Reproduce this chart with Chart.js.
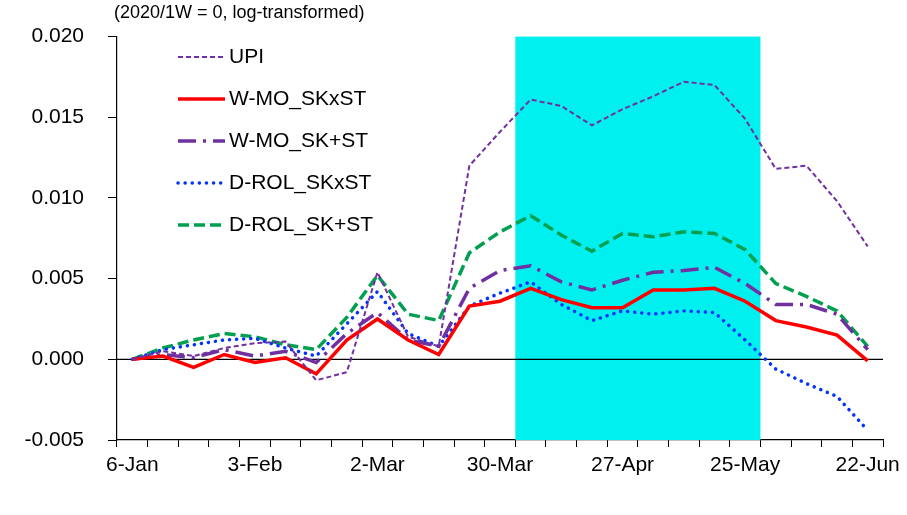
<!DOCTYPE html>
<html>
<head>
<meta charset="utf-8">
<script src="https://cdn.jsdelivr.net/npm/chart.js@4"></script>
<style>
  body { margin: 0; background: #fff; }
  #wrap { width: 907px; height: 515px; }
</style>
</head>
<body>
<div id="wrap"><canvas id="c"></canvas></div>
<script>
// weekly dates, 2020
const weeks = ['6-Jan','13-Jan','20-Jan','27-Jan','3-Feb','10-Feb','17-Feb','24-Feb','2-Mar','9-Mar','16-Mar','23-Mar',
  '30-Mar','6-Apr','13-Apr','20-Apr','27-Apr','4-May','11-May','18-May','25-May','1-Jun','8-Jun','15-Jun','22-Jun'];

const upi = [0, 0.0005, 0.0002, 0.0007, 0.0010, 0.0011, -0.0013, -0.0008, 0.0054, 0.0014, 0.0008, 0.0120,
  0.0141, 0.0161, 0.0157, 0.0145, 0.0155, 0.0163, 0.0172, 0.0170, 0.0149, 0.0118, 0.0120, 0.0098, 0.0070];
const wmoSKxST = [0, 0.0002, -0.0005, 0.0003, -0.0002, 0.0001, -0.0009, 0.0012, 0.0025, 0.0012, 0.0003, 0.0033,
  0.0036, 0.0044, 0.0037, 0.0032, 0.0032, 0.0043, 0.0043, 0.0044, 0.0036, 0.0024, 0.0020, 0.0015, -0.0001];
const wmoSKST = [0, 0.0003, 0.0001, 0.0006, 0.0002, 0.0005, -0.0002, 0.0016, 0.0029, 0.0012, 0.0008, 0.0044,
  0.0055, 0.0058, 0.0048, 0.0043, 0.0049, 0.0054, 0.0055, 0.0057, 0.0047, 0.0034, 0.0034, 0.0028, 0.0006];
const drolSKxST = [0, 0.0006, 0.0009, 0.0012, 0.0013, 0.0007, 0.0002, 0.0022, 0.0042, 0.0016, 0.0008, 0.0033,
  0.0041, 0.0048, 0.0034, 0.0024, 0.0030, 0.0028, 0.0030, 0.0029, 0.0012, -0.0006, -0.0015, -0.0023, -0.0044];
const drolSKST = [0, 0.0007, 0.0012, 0.0016, 0.0014, 0.0009, 0.0006, 0.0026, 0.0052, 0.0028, 0.0024, 0.0066,
  0.0079, 0.0089, 0.0077, 0.0067, 0.0078, 0.0076, 0.0079, 0.0078, 0.0068, 0.0047, 0.0039, 0.0030, 0.0008];

// shaded period: from 6-Apr to 25-May
const bandFrom = 13, bandTo = 20;
const FONT = '"Liberation Sans", Arial, sans-serif';

const bandPlugin = {
  id: 'band',
  beforeDatasetsDraw(chart) {
    const { ctx, chartArea, scales } = chart;
    const half = (scales.x.getPixelForValue(1) - scales.x.getPixelForValue(0)) / 2;
    const x1 = scales.x.getPixelForValue(bandFrom) - half;
    const x2 = scales.x.getPixelForValue(bandTo) + half;
    ctx.save();
    ctx.fillStyle = '#00F0F0';
    ctx.fillRect(x1, chartArea.top, x2 - x1, chartArea.bottom - chartArea.top);
    // zero line
    const y0 = scales.y.getPixelForValue(0);
    ctx.strokeStyle = '#000';
    ctx.lineWidth = 1.2;
    ctx.beginPath();
    ctx.moveTo(chartArea.left, y0);
    ctx.lineTo(chartArea.right, y0);
    ctx.stroke();
    ctx.restore();
  },
  afterDraw(chart) {
    const { ctx } = chart;
    ctx.save();
    ctx.fillStyle = '#000';
    ctx.font = '18px ' + FONT;
    ctx.textBaseline = 'middle';
    ctx.fillText('(2020/1W = 0, log-transformed)', 114, 13);
    // legend
    ctx.font = '21px ' + FONT;
    chart.data.datasets.forEach((ds, i) => {
      const y = 57 + i * 42;
      ctx.strokeStyle = ds.borderColor;
      ctx.lineWidth = ds.borderWidth;
      ctx.lineCap = ds.borderCapStyle || 'butt';
      ctx.setLineDash(ds.borderDash || []);
      ctx.beginPath();
      ctx.moveTo(178, y);
      ctx.lineTo(225, y);
      ctx.stroke();
      ctx.setLineDash([]);
      ctx.fillText(ds.label, 229, y);
    });
    ctx.restore();
  }
};

const purple = '#7030A0';

new Chart(document.getElementById('c'), {
  type: 'line',
  data: {
    labels: weeks,
    datasets: [
      { label: 'UPI', data: upi, borderColor: purple, borderWidth: 2, borderDash: [5, 3] },
      { label: 'W-MO_SKxST', data: wmoSKxST, borderColor: '#FF0000', borderWidth: 3.5 },
      { label: 'W-MO_SK+ST', data: wmoSKST, borderColor: purple, borderWidth: 3.5, borderDash: [18, 7, 3, 7] },
      { label: 'D-ROL_SKxST', data: drolSKxST, borderColor: '#0033FF', borderWidth: 3.5, borderDash: [0.1, 7], borderCapStyle: 'round' },
      { label: 'D-ROL_SK+ST', data: drolSKST, borderColor: '#00A050', borderWidth: 3.5, borderDash: [11, 5] }
    ]
  },
  options: {
    responsive: true,
    maintainAspectRatio: false,
    animation: false,
    elements: { point: { radius: 0 }, line: { tension: 0 } },
    layout: { padding: { top: 30, right: 24, left: 0, bottom: 0 } },
    plugins: { legend: { display: false }, tooltip: { enabled: false } },
    scales: {
      x: {
        offset: true,
        border: { color: '#000', width: 1.2 },
        grid: { offset: true, drawOnChartArea: false, color: '#000', tickLength: 7 },
        ticks: {
          autoSkip: false, maxRotation: 0, color: '#000', padding: 6,
          font: { size: 21, family: FONT },
          callback: (v, i) => (i % 4 === 0 ? weeks[i] : '')
        },
        afterFit: s => { s.height = 75; }
      },
      y: {
        min: -0.005, max: 0.02,
        border: { color: '#000', width: 1.2 },
        grid: { drawOnChartArea: false, color: '#000', tickLength: 9 },
        ticks: {
          stepSize: 0.005, color: '#000', padding: 24,
          font: { size: 21, family: FONT },
          callback: v => v.toFixed(3)
        },
        afterFit: s => { s.width = 117; }
      }
    }
  },
  plugins: [bandPlugin]
});
</script>
</body>
</html>
